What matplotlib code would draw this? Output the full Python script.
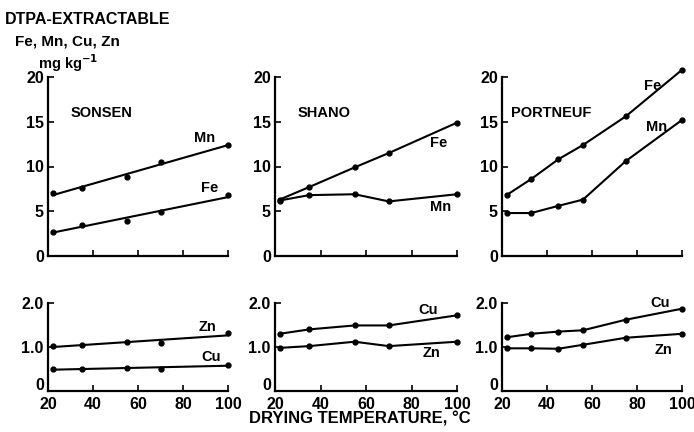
import numpy as np
import matplotlib
matplotlib.use("Agg")
import matplotlib.pyplot as plt
from matplotlib.transforms import ScaledTranslation

plt.rcParams['font.family'] = ['Liberation Sans', 'DejaVu Sans']
plt.rcParams['font.weight'] = 'bold'

# drying temperatures, deg C
temp_a = [22, 35, 55, 70, 100]          # Sonsen, Shano
temp_p = [22, 33, 45, 56, 75, 100]      # Portneuf

# Sonsen
sonsen_mn = [7.0, 7.6, 8.8, 10.5, 12.4]
sonsen_fe = [2.7, 3.5, 3.9, 4.9, 6.8]
sonsen_zn = [1.02, 1.05, 1.12, 1.08, 1.31]
sonsen_cu = [0.50, 0.50, 0.52, 0.50, 0.60]

# Shano
shano_fe = [6.3, 7.7, 9.9, 11.5, 14.9]
shano_mn = [6.2, 6.8, 6.9, 6.1, 6.9]
shano_cu = [1.30, 1.40, 1.49, 1.49, 1.72]
shano_zn = [0.98, 1.02, 1.12, 1.02, 1.12]

# Portneuf
port_fe = [6.8, 8.6, 10.8, 12.4, 15.6, 20.8]
port_mn = [4.8, 4.8, 5.6, 6.3, 10.6, 15.2]
port_cu = [1.22, 1.30, 1.35, 1.38, 1.62, 1.87]
port_zn = [0.97, 0.97, 0.96, 1.05, 1.21, 1.30]

W, H = 694, 432
fig = plt.figure(figsize=(W / 100, H / 100), dpi=100)


def box(x0, x1, ybot, ytop):
    return [x0 / W, 1 - ybot / H, (x1 - x0) / W, (ybot - ytop) / H]


cols = [(48, 228), (275, 457), (502, 682)]


def style(ax, ymax, yticks, ylabels, xlab):
    ax.set_xlim(20, 100)
    ax.set_ylim(0, ymax)
    for s in ['top', 'right']:
        ax.spines[s].set_visible(False)
    for s in ['left', 'bottom']:
        ax.spines[s].set_linewidth(1.6)
    ax.set_xticks([20, 40, 60, 80, 100])
    ax.set_yticks(yticks)
    ax.set_yticklabels(ylabels)
    ax.tick_params(direction='in', length=4, width=1.2, labelsize=11.5, pad=3)
    if xlab:
        ax.set_xticklabels(['20', '40', '60', '80', '100'])
        ax.tick_params(axis='x', pad=4)
        # lift the "0" so it sits above the "20" like in the print
        lab0 = ax.get_yticklabels()[0]
        lab0.set_transform(lab0.get_transform() +
                           ScaledTranslation(0, 5 / 72, fig.dpi_scale_trans))
    else:
        ax.set_xticklabels([])


def series(ax, x, y, fit=False):
    ax.plot(x, y, 'o', color='black', ms=3.5, clip_on=False)
    if fit:
        c = np.polyfit(x, y, 1)
        xx = np.array([x[0], x[-1]])
        ax.plot(xx, np.polyval(c, xx), color='black', lw=1.5, clip_on=False)
    else:
        ax.plot(x, y, color='black', lw=1.5, clip_on=False)


top_t = [0, 5, 10, 15, 20]
bot_t = [0, 1.0, 2.0]
top_l = ['0', '5', '10', '15', '20']
bot_l = ['0', '1.0', '2.0']

axes_top = [fig.add_axes(box(c[0], c[1], 256, 77)) for c in cols]
axes_bot = [fig.add_axes(box(c[0], c[1], 391, 303)) for c in cols]
for ax in axes_top:
    style(ax, 20, top_t, top_l, False)
for ax in axes_bot:
    style(ax, 2.0, bot_t, bot_l, True)

fs = 10.5

# Sonsen
a, b = axes_top[0], axes_bot[0]
series(a, temp_a, sonsen_mn, fit=True)
series(a, temp_a, sonsen_fe, fit=True)
series(b, temp_a, sonsen_zn, fit=True)
series(b, temp_a, sonsen_cu, fit=True)
a.text(30, 15.5, 'SONSEN', fontsize=fs)
a.text(85, 12.7, 'Mn', fontsize=fs)
a.text(88, 7.2, 'Fe', fontsize=fs)
b.text(87, 1.36, 'Zn', fontsize=fs)
b.text(88, 0.68, 'Cu', fontsize=fs)

# Shano
a, b = axes_top[1], axes_bot[1]
series(a, temp_a, shano_fe)
series(a, temp_a, shano_mn)
series(b, temp_a, shano_cu)
series(b, temp_a, shano_zn)
a.text(30, 15.5, 'SHANO', fontsize=fs)
a.text(88, 12.2, 'Fe', fontsize=fs)
a.text(88, 5.0, 'Mn', fontsize=fs)
b.text(83, 1.76, 'Cu', fontsize=fs)
b.text(85, 0.78, 'Zn', fontsize=fs)

# Portneuf
a, b = axes_top[2], axes_bot[2]
series(a, temp_p, port_fe)
series(a, temp_p, port_mn)
series(b, temp_p, port_cu)
series(b, temp_p, port_zn)
a.text(24, 15.5, 'PORTNEUF', fontsize=fs)
a.text(83, 18.6, 'Fe', fontsize=fs)
a.text(84, 14.0, 'Mn', fontsize=fs)
b.text(86, 1.92, 'Cu', fontsize=fs)
b.text(88, 0.85, 'Zn', fontsize=fs)

fig.text(5 / W, 1 - 19 / H, 'DTPA-EXTRACTABLE', fontsize=11.5, va='center')
fig.text(15 / W, 1 - 41 / H, 'Fe, Mn, Cu, Zn', fontsize=11, va='center')
fig.text(38 / W, 1 - 63 / H, 'mg kg$^{-1}$', fontsize=10.5, va='center')
fig.text(360 / W, 1 - 419 / H, 'DRYING TEMPERATURE, °C', fontsize=12,
         ha='center', va='center')

fig.savefig('out.png', dpi=100, facecolor='white')
